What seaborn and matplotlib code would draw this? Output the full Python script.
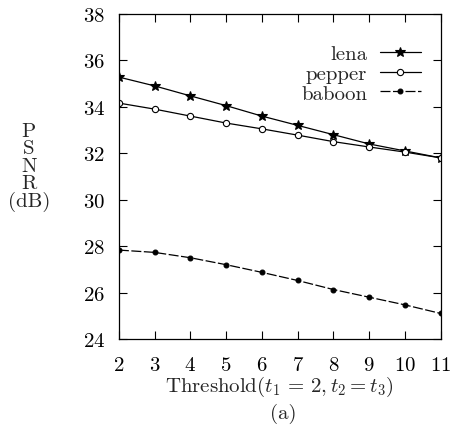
import pandas as pd
import matplotlib
matplotlib.use("Agg")
import matplotlib.pyplot as plt
import seaborn as sns

threshold = [2, 3, 4, 5, 6, 7, 8, 9, 10, 11]
lena = [35.28, 34.9, 34.47, 34.05, 33.6, 33.2, 32.8, 32.4, 32.1, 31.8]
pepper = [34.16, 33.9, 33.6, 33.3, 33.05, 32.78, 32.5, 32.27, 32.05, 31.8]
baboon = [27.83, 27.73, 27.5, 27.2, 26.87, 26.52, 26.13, 25.8, 25.47, 25.1]

sns.set_style("ticks")
plt.rcParams['font.family'] = ['cmr10', 'DejaVu Serif']
plt.rcParams['mathtext.fontset'] = 'cm'
plt.rcParams['axes.formatter.use_mathtext'] = True

fig = plt.figure(figsize=(4.52, 4.39), dpi=100)
ax = fig.add_axes([0.263, 0.2255, 0.712, 0.7405])

styles = [
    ("lena", lena, dict(marker="*", markersize=7.5, linestyle="-")),
    ("pepper", pepper, dict(marker="o", markersize=4.5, linestyle="-", markerfacecolor="white")),
    ("baboon", baboon, dict(marker="o", markersize=3.5, linestyle=(0, (8, 2)))),
]
for name, vals, kw in styles:
    df = pd.DataFrame({"t": threshold, "psnr": vals})
    sns.lineplot(data=df, x="t", y="psnr", ax=ax, color="black", linewidth=0.9,
                 markeredgecolor="black", markeredgewidth=0.8, label=name, **kw)

ax.set_xlim(2, 11)
ax.set_ylim(24, 38)
ax.set_xticks(threshold)
ax.set_yticks([24, 26, 28, 30, 32, 34, 36, 38])
ax.tick_params(direction="in", top=True, right=True, length=6, width=0.8,
               labelsize=15, colors="black")
ax.tick_params(axis="x", pad=12)
ax.tick_params(axis="y", pad=10)
for s in ax.spines.values():
    s.set_linewidth(0.9)
    s.set_color("black")

ax.set_xlabel(r"Threshold($t_1\,=\,2,t_2=t_3$)", fontsize=15, labelpad=0)
ax.set_ylabel("P\nS\nN\nR\n(dB)", fontsize=15, rotation=0,
              va="center", ha="center", linespacing=0.95)
ax.yaxis.set_label_coords(-0.28, 0.53)

leg = ax.legend(loc="upper right", bbox_to_anchor=(0.985, 0.95), frameon=False,
                markerfirst=False, fontsize=15, handlelength=2.0,
                handletextpad=0.6, labelspacing=0.05, borderaxespad=0.3)

fig.text(0.626, 0.057, "(a)", fontsize=15, ha="center", va="center")

fig.savefig("out.png", dpi=100)
